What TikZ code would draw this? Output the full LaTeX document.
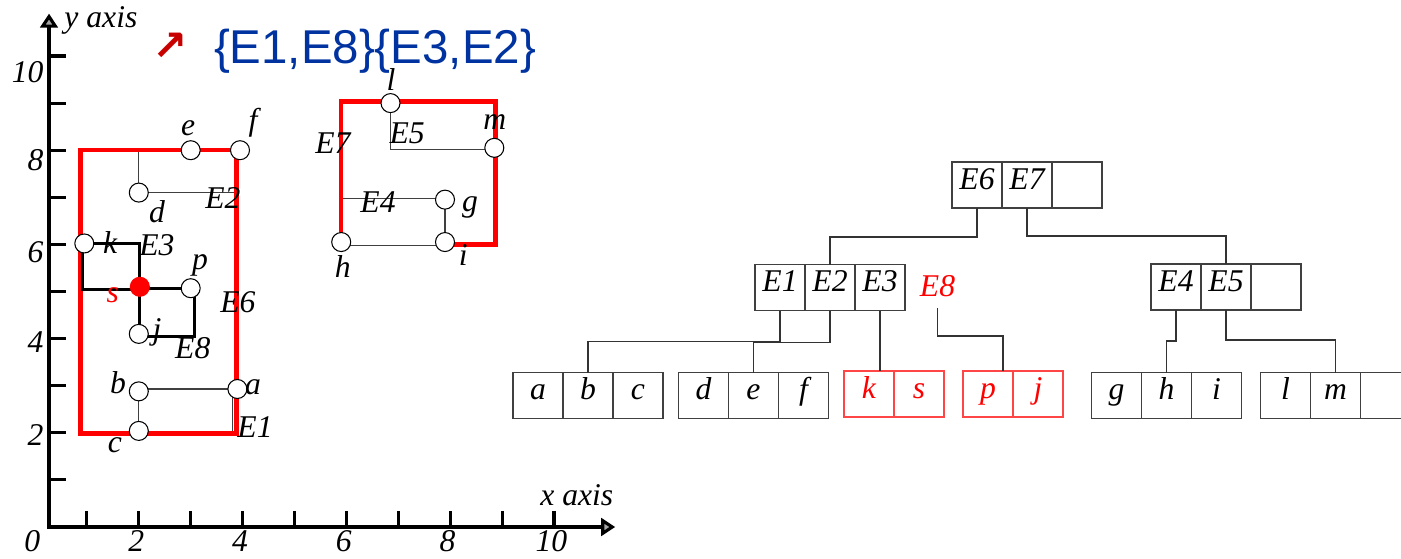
\documentclass[tikz,border=0pt]{standalone}
\usepackage{fontspec}
\setmainfont{Liberation Serif}
\newfontfamily\arialfont{Liberation Sans}
\newfontfamily\dejavu{DejaVu Sans}
\usetikzlibrary{arrows.meta,positioning}
\definecolor{setblue}{RGB}{0,51,160}
\definecolor{arrowred}{RGB}{200,0,0}
\definecolor{leafred}{RGB}{255,70,70}

\tikzset{
  lbl/.style={font=\itshape\fontsize{18}{20}\selectfont, inner sep=0pt},
  pt/.style={circle, draw=black, fill=white, line width=0.6pt, minimum size=0.38cm, inner sep=0pt},
  mbr/.style={draw=black!75, line width=0.6pt},
  mbrred/.style={draw=red, line width=2.6pt},
  mbrbold/.style={draw=black, line width=1.8pt},
  axis/.style={line width=1.8pt, {Triangle[width=10pt,length=8pt,fill=black!35]}-{Triangle[width=10pt,length=8pt,fill=black!35]}},
  tick/.style={line width=1.8pt},
  cell/.style={draw=black!75, line width=0.6pt, minimum width=1cm, minimum height=0.92cm,
    inner sep=0pt, outer sep=0pt, text height=0.7em, text depth=0.2em,
    font=\itshape\fontsize{18}{20}\selectfont},
  redcell/.style={cell, draw=leafred, text=red},
  link/.style={draw=black!80, line width=0.6pt},
}

\begin{document}
\begin{tikzpicture}
  \useasboundingbox (-0.7,-0.62) rectangle (27.32,10.54);
  % result set
  \node[font=\dejavu\bfseries\fontsize{24}{24}\selectfont, text=arrowred] (bullet) at (2.7,9.6) {↗};
  \node[font=\arialfont\fontsize{27}{29}\selectfont, text=setblue, anchor=base] (result) at (6.8,9.28) {\{E1,E8\}\{E3,E2\}};

  \begin{scope}[x=1.038cm, y=0.942cm]
    % axes
    \coordinate (O) at (0.27,0);
    \coordinate (ytop) at (0.27,10.9);
    \coordinate (xend) at (11.18,0);
    \draw[axis] (ytop) -- (O) -- (xend);
    \foreach \k in {1,...,10} {
      \draw[tick] (0.27,\k) -- (0.6,\k);
      \draw[tick] (\k,0) -- (\k,0.33);
    }
    \foreach \y/\ypos in {2/1.95, 4/3.93, 6/5.84, 8/7.79, 10/9.66}
      \node[lbl, anchor=east] (ylab\y) at (0.17,\ypos) {\y};
    \foreach \x in {0,2,...,10}
      \node[lbl] (xlab\x) at (\x-0.05,-0.3) {\x};
    \node[lbl] (ylabel) at (1.27,10.76) {y axis};
    \node[lbl] (xlabel) at (10.44,0.68) {x axis};

    % leaf rectangles E1, E2, E4, E5
    \draw[mbr] (2,2.0) rectangle (3.8,2.93);
    \draw[mbr] (2,7.1) rectangle (3.88,8.0);
    \draw[mbr] (5.9,5.98) rectangle (7.9,6.98);
    \draw[mbr] (6.85,8.02) rectangle (8.86,9.02);
    % E6, E7
    \draw[mbrred] (0.88,1.98) rectangle (3.88,8.0);
    \draw[mbrred] (7.9,6.0) -- (8.87,6.0) -- (8.87,9.03) -- (5.9,9.03) -- (5.9,6.05);
    % E3, E8
    \draw[mbrbold] (0.92,5.05) rectangle (2.02,6.02);
    \draw[mbrbold] (2.02,4.05) rectangle (3.08,5.07);

    % points
    \node[pt] (a) at (3.9,2.93) {};
    \node[pt] (b) at (2,2.88) {};
    \node[pt] (c) at (2,2.04) {};
    \node[pt] (d) at (2,7.1) {};
    \node[pt] (e) at (3,8) {};
    \node[pt] (f) at (3.95,8) {};
    \node[pt] (g) at (7.9,6.95) {};
    \node[pt] (h) at (5.9,6.05) {};
    \node[pt] (i) at (7.9,6.05) {};
    \node[pt] (k) at (0.95,6.02) {};
    \node[pt] (l) at (6.85,9.0) {};
    \node[pt] (m) at (8.85,8.05) {};
    \node[pt] (p) at (3,5.07) {};
    \node[pt] (j) at (2,4.1) {};
    \node[pt, fill=red, draw=red] (s) at (2.02,5.1) {};

    % point labels
    \node[lbl] (lab-a) at (4.2,2.97) {a};
    \node[lbl] (lab-b) at (1.6,3.06) {b};
    \node[lbl] (lab-c) at (1.54,1.74) {c};
    \node[lbl] (lab-d) at (2.35,6.69) {d};
    \node[lbl] (lab-e) at (2.95,8.47) {e};
    \node[lbl] (lab-f) at (4.2,8.58) {f};
    \node[lbl] (lab-g) at (8.38,6.79) {g};
    \node[lbl] (lab-h) at (5.93,5.52) {h};
    \node[lbl] (lab-i) at (8.25,5.77) {i};
    \node[lbl] (lab-k) at (1.45,6.05) {k};
    \node[lbl] (lab-l) at (6.86,9.5) {l};
    \node[lbl] (lab-m) at (8.86,8.6) {m};
    \node[lbl] (lab-p) at (3.18,5.56) {p};
    \node[lbl] (lab-j) at (2.35,4.14) {j};
    \node[lbl, text=red] (lab-s) at (1.5,4.93) {s};
    % rectangle labels
    \node[lbl] (lab-E1) at (4.24,2.12) {E1};
    \node[lbl] (lab-E2) at (3.62,6.98) {E2};
    \node[lbl] (lab-E3) at (2.35,5.99) {E3};
    \node[lbl] (lab-E4) at (6.61,6.9) {E4};
    \node[lbl] (lab-E5) at (7.17,8.36) {E5};
    \node[lbl] (lab-E6) at (3.91,4.78) {E6};
    \node[lbl] (lab-E7) at (5.74,8.15) {E7};
    \node[lbl] (lab-E8) at (3.04,3.8) {E8};
  \end{scope}

  % R-tree: root
  \node[cell] (r1) at (18.84,6.84) {E6};
  \node[cell, right=0pt of r1] (r2) {E7};
  \node[cell, right=0pt of r2] (r3) {};
  % inner level
  \node[cell] (l1) at (14.9,4.79) {E1};
  \node[cell, right=0pt of l1] (l2) {E2};
  \node[cell, right=0pt of l2] (l3) {E3};
  \node[lbl, text=red] (e8) at (18.05,4.82) {E8};
  \node[cell] (q1) at (22.82,4.8) {E4};
  \node[cell, right=0pt of q1] (q2) {E5};
  \node[cell, right=0pt of q2] (q3) {};
  % leaves
  \node[cell] (a1) at (10.06,2.63) {a};
  \node[cell, right=0pt of a1] (a2) {b};
  \node[cell, right=0pt of a2] (a3) {c};
  \node[cell] (d1) at (13.37,2.63) {d};
  \node[cell, right=0pt of d1] (d2) {e};
  \node[cell, right=0pt of d2] (d3) {f};
  \node[redcell] (k1) at (16.68,2.66) {k};
  \node[redcell, right=0pt of k1] (k2) {s};
  \node[redcell] (p1) at (19.06,2.66) {p};
  \node[redcell, right=0pt of p1] (p2) {j};
  \node[cell] (g1) at (21.63,2.63) {g};
  \node[cell, right=0pt of g1] (g2) {h};
  \node[cell, right=0pt of g2] (g3) {i};
  \node[cell] (lm1) at (25.01,2.63) {l};
  \node[cell, right=0pt of lm1] (lm2) {m};
  \node[cell, right=0pt of lm2] (lm3) {};

  % links
  \draw[link] (r1.south) -- ++(0,-0.58) -| (l2.north);
  \draw[link] (r2.south) -- ++(0,-0.56) -| (q2.north);
  \draw[link] (l1.south) -- ++(0,-0.62) -| (a2.north);
  \draw[link] (l2.south) -- ++(0,-0.64) -| (d2.north);
  \draw[link] (l3.south) -- (l3.south |- k1.north);
  \draw[link] ([yshift=-0.22cm]e8.south) -- ++(0,-0.56) -| ([xshift=0.3cm]p1.north);
  \draw[link] (q1.south) -- ++(0,-0.62) -| (g2.north);
  \draw[link] (q2.south) -- ++(0,-0.6) -| (lm2.north);
\end{tikzpicture}
\end{document}
